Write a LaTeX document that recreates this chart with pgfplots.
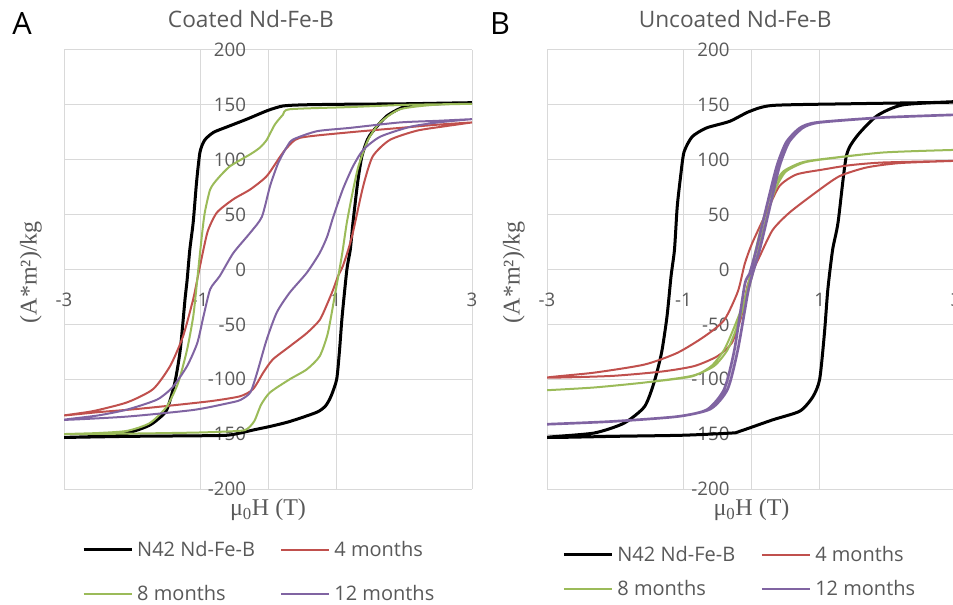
\documentclass[border=0pt]{standalone}
\usepackage{fontspec}
\setmainfont{Open Sans}
\newfontfamily\labelfont{Liberation Serif}
\usepackage{pgfplots}
\pgfplotsset{compat=1.18}

\definecolor{cred}{HTML}{C0504D}
\definecolor{cgreen}{HTML}{9BBB59}
\definecolor{cpurple}{HTML}{8064A2}
\definecolor{cgrid}{HTML}{D9D9D9}
\definecolor{ctext}{HTML}{595959}

\pgfplotsset{
  hyst/.style={
    scale only axis, width=306pt, height=329.25pt, anchor=south west,
    xmin=-3, xmax=3, ymin=-200, ymax=200,
    axis lines=middle, axis line style={cgrid, line width=0.75pt, -},
    hide obscured x ticks=false, hide obscured y ticks=false,
    xtick={-3,-1,1,3}, xticklabels={-3,-1,1,3},
    ytick={-200,-150,...,200},
    yticklabels={-200,-150,-100,-50,0,50,100,150,200},
    grid=major, grid style={cgrid, line width=0.75pt},
    major tick length=0pt, tick style={draw=none},
    ticklabel style={font=\fontsize{14}{16}\selectfont, text=ctext},
    xticklabel style={anchor=center, yshift=-22.5pt},
    yticklabel style={anchor=east, xshift=-13pt},
    xlabel={\labelfont μ\textsubscript{0}H (T)},
    ylabel={\labelfont (A*m²)/kg},
    xlabel style={at={(axis description cs:0.5,-0.048)}, anchor=center,
      font=\fontsize{18}{20}\selectfont, text=ctext},
    ylabel style={at={(axis description cs:-0.081,0.494)}, anchor=center,
      rotate=90, font=\fontsize{18}{20}\selectfont, text=ctext},
    title style={font=\fontsize{17}{20}\selectfont, text=ctext, anchor=center},
    legend columns=2, legend cell align=left,
    legend image code/.code={\draw[##1] (0pt,0pt) -- (36pt,0pt);},
    legend style={draw=none, fill=none, inner sep=0pt, anchor=north west,
      font=\fontsize{15}{18}\selectfont, nodes={text=ctext},
      /tikz/every odd column/.append style={column sep=1pt}},
    legend entries={N42 Nd-Fe-B, 4 months, 8 months, 12 months},
  },
  blk/.style={black, line width=2.25pt, smooth, tension=0.4},
  red/.style={cred, line width=1.5pt, smooth, tension=0.4},
  grn/.style={cgreen, line width=1.5pt, smooth, tension=0.4},
  pur/.style={cpurple, line width=1.5pt, smooth, tension=0.4},
}

\begin{document}
\begin{tikzpicture}
% panel A: coated
\begin{axis}[hyst, at={(48pt,86.25pt)},
  title={Coated Nd-Fe-B}, title style={at={(axis description cs:0.458,1.052)}},
  legend style={at={(axis description cs:0.044,-0.112)}, row sep=16pt,
    /tikz/every even column/.append style={column sep=17pt}}]
\addplot[blk] coordinates {
 (3,152) (2.5,151.5) (2,151) (1,150.5) (0.5,150) (0.22,149) (0,145) (-0.31,137)
 (-0.6,130) (-0.8,125) (-0.93,118) (-1.0,107) (-1.05,80) (-1.10,43) (-1.15,18)
 (-1.19,-10) (-1.22,-27) (-1.29,-73) (-1.37,-103) (-1.49,-128) (-1.65,-138)
 (-1.78,-143) (-2.07,-149) (-2.5,-152) (-3,-153)
 (-2.5,-152.5) (-2,-152) (-1,-151.5) (-0.6,-151) (-0.41,-149) (-0.2,-146)
 (0.03,-143) (0.32,-138.5) (0.72,-130) (0.85,-124) (0.93,-115) (1.01,-100)
 (1.05,-75) (1.09,-43) (1.16,0) (1.21,18) (1.25,43) (1.32,80) (1.38,103)
 (1.46,118) (1.53,125) (1.75,140) (2.04,149) (2.5,151) (3,152)};
\addplot[red] coordinates {
 (3,134) (2.5,132) (1.94,129) (1.2,125) (0.47,120) (0.28,111) (0.18,103)
 (-0.02,85) (-0.26,73) (-0.51,64) (-0.75,52) (-0.88,36) (-0.95,18) (-1.03,-6)
 (-1.1,-27) (-1.25,-61) (-1.44,-88) (-1.69,-109) (-2.07,-121) (-2.57,-129) (-3,-133)
 (-2.5,-130) (-2,-127.5) (-1.59,-125) (-0.85,-120) (-0.41,-115.5) (-0.22,-109)
 (-0.07,-94) (0.07,-82) (0.32,-70) (0.57,-58) (0.76,-46) (0.88,-30) (0.96,-18)
 (1.03,-6) (1.10,3) (1.18,18) (1.25,34) (1.40,76) (1.54,103) (1.79,118)
 (2.19,126.5) (2.6,130.5) (3,134)};
\addplot[grn] coordinates {
 (3,151) (2.5,150.5) (2,150) (1.2,148) (0.32,146) (0.22,141) (0.1,132)
 (-0.02,118) (-0.12,111) (-0.26,105) (-0.56,94) (-0.75,82) (-0.85,73) (-0.92,55)
 (-0.95,43) (-1.0,15) (-1.05,-15) (-1.10,-43) (-1.19,-73) (-1.32,-103)
 (-1.49,-125) (-1.74,-140) (-2.07,-147) (-2.5,-149) (-3,-150)
 (-2,-149.5) (-1,-148.5) (-0.41,-147) (-0.3,-145) (-0.2,-138) (-0.1,-123)
 (0.03,-112) (0.32,-100) (0.57,-91) (0.76,-79) (0.88,-58) (0.99,-21) (1.06,3)
 (1.10,18) (1.16,43) (1.25,72) (1.33,94) (1.47,118) (1.65,134) (1.94,146)
 (2.43,150) (3,151)};
\addplot[pur] coordinates {
 (3,137) (2.5,135.5) (1.94,134) (1.2,129) (0.72,126) (0.37,118.5) (0.28,112)
 (0.15,97) (0.03,76) (-0.09,48) (-0.26,33.6) (-0.51,15) (-0.71,-6) (-0.85,-18)
 (-0.95,-43) (-1.04,-67) (-1.19,-88) (-1.40,-107) (-1.63,-118.5) (-2.07,-127.6)
 (-2.5,-133) (-3,-137)
 (-2.07,-134) (-1.1,-128) (-0.6,-122) (-0.41,-119) (-0.26,-112) (-0.16,-94)
 (-0.02,-64) (0.13,-39) (0.32,-21) (0.57,-3) (0.76,15) (0.87,30) (0.96,48)
 (1.10,73) (1.25,94) (1.40,109) (1.65,121) (2.09,130) (2.5,134) (3,137)};
\end{axis}

% panel B: uncoated
\begin{axis}[hyst, at={(410.25pt,86.25pt)}, width=306.75pt,
  title={Uncoated Nd-Fe-B}, title style={at={(axis description cs:0.460,1.052)}},
  legend style={at={(axis description cs:0.037,-0.123)}, row sep=9pt,
    /tikz/every even column/.append style={column sep=17pt}}]
\addplot[blk] coordinates {
 (3,152.5) (2.5,152) (1.44,151) (0.31,149.5) (-0.03,144) (-0.32,135) (-0.66,129)
 (-0.87,121) (-0.99,107) (-1.04,85) (-1.09,57) (-1.13,18) (-1.18,-6) (-1.24,-43)
 (-1.32,-76) (-1.43,-103) (-1.57,-125) (-1.87,-140) (-2.31,-149) (-3,-153)
 (-2,-152) (-1,-151) (-0.29,-149) (-0.18,-147.6) (0.31,-137) (0.71,-129)
 (0.9,-116) (1.0,-100) (1.07,-58) (1.12,-18) (1.19,18) (1.27,43) (1.39,103)
 (1.54,121) (1.84,140) (2.22,150) (3,153)};
\addplot[red] coordinates {
 (3,99) (1.93,97.5) (1.44,95) (1.04,91) (0.66,86.6) (0.41,76) (0.22,52) (0.01,24)
 (-0.1,5) (-0.2,-20) (-0.4,-46) (-0.69,-61) (-1.09,-76) (-1.57,-86.6) (-2.31,-94)
 (-3,-98.5)
 (-2.06,-97) (-1.32,-93) (-0.84,-88) (-0.5,-79) (-0.29,-67) (-0.15,-43)
 (-0.06,-15) (0.03,0) (0.12,12) (0.31,36) (0.56,52) (0.96,71) (1.29,85)
 (1.69,93) (2.18,97) (3,99)};
\addplot[grn] coordinates {
 (3,109) (1.93,106.6) (0.96,100) (0.71,97) (0.46,89) (0.31,73) (0.16,43)
 (0.04,12) (-0.1,-27) (-0.25,-52) (-0.40,-73) (-0.59,-88) (-0.88,-97.5)
 (-1.57,-103) (-2.31,-107.5) (-3,-110)
 (-2.31,-107.5) (-1.57,-103) (-0.88,-97) (-0.55,-88) (-0.35,-73) (-0.2,-50)
 (-0.05,-20) (0.08,12) (0.2,43) (0.35,73) (0.5,89) (0.75,97) (1,100)
 (1.93,106.6) (3,109)};
\addplot[pur, line width=2pt] coordinates {
 (3,141) (1.93,138.5) (0.96,134) (0.71,129) (0.51,116) (0.37,94) (0.22,57)
 (0.07,18) (-0.03,-4) (-0.1,-14) (-0.25,-73) (-0.4,-109) (-0.65,-127.6)
 (-1.09,-134) (-2.06,-138.5) (-3,-141)
 (-2.06,-138.5) (-1.09,-134) (-0.6,-127) (-0.35,-109) (-0.2,-73) (-0.05,-20)
 (0.02,-3) (0.12,18) (0.27,57) (0.41,94) (0.55,116) (0.75,129) (1,134)
 (1.93,138.5) (3,141)};
\end{axis}

\node[font=\fontsize{23}{26}\selectfont] at (16.5pt,435pt) {A};
\node[font=\fontsize{23}{26}\selectfont] at (375pt,435pt) {B};

\pgfresetboundingbox
\useasboundingbox (0,0) rectangle (714.75pt,453pt);
\end{tikzpicture}
\end{document}
